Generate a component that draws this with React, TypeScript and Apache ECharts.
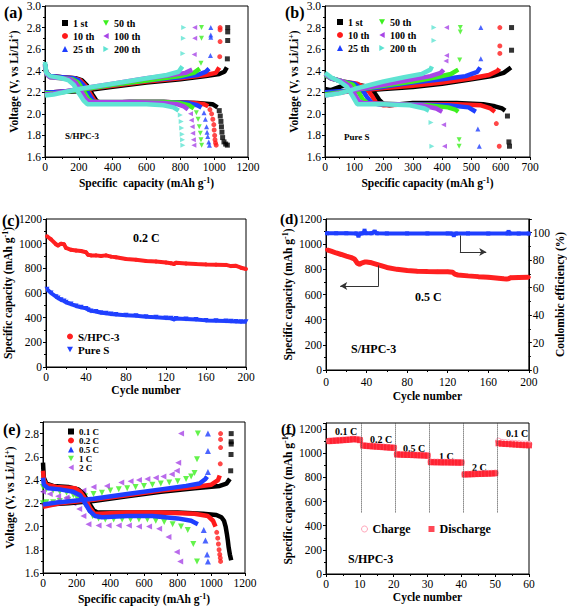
import React, { useEffect, useRef } from "react";
import * as echarts from "echarts";

const FONT = '"Liberation Serif", "Times New Roman", serif';

// ---------- colours / symbols
const COLORS6 = ["#000000", "#ff1a1a", "#1f3fff", "#3cf01e", "#a845e6", "#5fe3d2"];
const SYM_TD = "path://M0,0L10,0L5,9Z";
const SYM_TL = "path://M10,0L10,10L1,5Z";
const SYM_TR = "path://M0,0L0,10L9,5Z";
const SYMS6 = ["rect", "circle", "triangle", SYM_TD, SYM_TL, SYM_TR];

// ---------- (a) S/HPC-3 charge/discharge profiles
const CYCLE_NAMES = ["1 st", "10 th", "25 th", "50 th", "100 th", "200 th"];
const A_DIS_1 = [[0,2.46],[8,2.38],[30,2.35],[100,2.34],[180,2.33],[220,2.31],[250,2.26],[280,2.18],[305,2.12],[330,2.1],[500,2.11],[700,2.11],[900,2.1],[990,2.09],[1020,2.06]];
const A_DIS_1_T = [[1030,2.03],[1036,1.98],[1040,1.93],[1043,1.88],[1046,1.83],[1050,1.78],[1058,1.74],[1068,1.72],[1078,1.71]];
const A_CHG_1 = [[0,2.2],[50,2.2],[200,2.21],[400,2.25],[600,2.29],[800,2.32],[950,2.35],[1030,2.37],[1060,2.39],[1075,2.43]];
const A_CHG_1_T = [[1078,2.51],[1080,2.68],[1080,2.76],[1080,2.8]];
const A_DIS_10 = [[0,2.45],[8,2.38],[30,2.35],[100,2.34],[175,2.33],[210,2.31],[240,2.26],[270,2.18],[295,2.12],[320,2.1],[500,2.11],[700,2.11],[880,2.1],[940,2.09],[965,2.07]];
const A_DIS_10_T = [[975,2.04],[985,2.0],[992,1.95],[998,1.9],[1000,1.85],[1003,1.8],[1005,1.76],[1008,1.73],[1012,1.71]];
const A_CHG_10 = [[0,2.2],[50,2.2],[200,2.22],[400,2.26],[600,2.3],[800,2.33],[950,2.36],[1010,2.38],[1030,2.43]];
const A_CHG_10_T = [[1033,2.53],[1035,2.67],[1035,2.78],[1035,2.8]];
const A_DIS_25 = [[0,2.46],[8,2.38],[30,2.35],[100,2.34],[170,2.33],[200,2.31],[230,2.26],[260,2.18],[285,2.12],[310,2.1],[500,2.11],[700,2.11],[850,2.1],[900,2.08],[925,2.06]];
const A_DIS_25_T = [[940,2.01],[948,1.95],[955,1.88],[958,1.83],[962,1.79],[968,1.74],[972,1.71]];
const A_CHG_25 = [[0,2.2],[50,2.2],[200,2.22],[400,2.27],[600,2.31],[800,2.34],[900,2.36],[950,2.39],[970,2.42]];
const A_CHG_25_T = [[978,2.54],[980,2.71],[980,2.73],[980,2.8]];
const A_DIS_50 = [[0,2.44],[8,2.37],[30,2.34],[100,2.33],[160,2.32],[195,2.29],[225,2.22],[255,2.14],[280,2.11],[500,2.11],[700,2.11],[800,2.1],[850,2.08],[880,2.05]];
const A_DIS_50_T = [[895,2.01],[905,1.95],[912,1.88],[918,1.82],[922,1.76],[926,1.71]];
const A_CHG_50 = [[0,2.19],[50,2.19],[200,2.22],[400,2.27],[600,2.31],[800,2.35],[880,2.38],[915,2.42]];
const A_CHG_50_T = [[922,2.47],[925,2.7],[925,2.8]];
const A_DIS_100 = [[0,2.45],[8,2.37],[30,2.34],[100,2.33],[150,2.32],[180,2.29],[210,2.22],[240,2.14],[265,2.11],[500,2.11],[700,2.1],[780,2.09],[820,2.07],[845,2.04]];
const A_DIS_100_T = [[860,2.0],[865,1.94],[870,1.88],[873,1.82],[877,1.76],[880,1.71]];
const A_CHG_100 = [[0,2.18],[50,2.19],[200,2.23],[400,2.28],[600,2.33],[750,2.36],[830,2.38],[870,2.41]];
const A_CHG_100_T = [[882,2.55],[885,2.7],[885,2.8]];
const A_DIS_200 = [[0,2.48],[8,2.38],[30,2.35],[100,2.33],[140,2.31],[170,2.27],[200,2.19],[230,2.12],[250,2.09],[400,2.09],[600,2.09],[700,2.08],[760,2.06],[790,2.03]];
const A_DIS_200_T = [[800,1.99],[805,1.93],[808,1.87],[811,1.81],[813,1.76],[815,1.71]];
const A_CHG_200 = [[0,2.17],[50,2.18],[200,2.23],[400,2.28],[600,2.33],[720,2.36],[790,2.39],[812,2.44]];
const A_CHG_200_T = [[815,2.56],[818,2.7],[820,2.8]];

// ---------- (b) Pure S charge/discharge profiles
const B_DIS_1 = [[0,2.23],[20,2.22],[60,2.26],[110,2.27],[150,2.25],[170,2.19],[185,2.13],[200,2.09],[220,2.08],[300,2.1],[450,2.1],[540,2.09],[580,2.07],[605,2.05],[615,2.03]];
const B_DIS_1_T = [[623,1.98],[628,1.74],[630,1.7]];
const B_CHG_1 = [[0,2.21],[30,2.2],[100,2.21],[200,2.23],[300,2.25],[400,2.28],[500,2.32],[570,2.35],[610,2.38],[635,2.43]];
const B_CHG_1_T = [[637,2.59],[637,2.8]];
const B_DIS_10 = [[0,2.37],[20,2.33],[60,2.3],[110,2.28],[140,2.24],[160,2.17],[175,2.1],[200,2.08],[300,2.09],[450,2.09],[530,2.08],[565,2.05],[580,2.02]];
const B_DIS_10_T = [[585,1.91],[595,1.7]];
const B_CHG_10 = [[0,2.19],[100,2.21],[200,2.24],[300,2.26],[400,2.29],[500,2.33],[560,2.36],[590,2.4],[595,2.42]];
const B_CHG_10_T = [[597,2.56],[597,2.63],[597,2.8]];
const B_DIS_25 = [[0,2.36],[20,2.33],[60,2.3],[100,2.28],[125,2.23],[145,2.15],[160,2.1],[180,2.09],[300,2.09],[420,2.08],[490,2.06],[515,2.02]];
const B_DIS_25_T = [[522,1.86],[527,1.7]];
const B_CHG_25 = [[0,2.2],[100,2.22],[200,2.25],[300,2.29],[400,2.32],[480,2.35],[520,2.39],[530,2.43]];
const B_CHG_25_T = [[532,2.51],[532,2.8]];
const B_DIS_50 = [[0,2.36],[20,2.33],[60,2.3],[95,2.27],[115,2.2],[130,2.13],[145,2.1],[250,2.09],[350,2.08],[420,2.06],[445,2.04],[455,2.02]];
const B_DIS_50_T = [[458,1.76],[458,1.7]];
const B_CHG_50 = [[0,2.18],[100,2.22],[200,2.26],[300,2.3],[380,2.34],[430,2.37],[455,2.41]];
const B_CHG_50_T = [[460,2.5],[462,2.76],[462,2.8]];
const B_DIS_100 = [[0,2.37],[20,2.33],[60,2.3],[85,2.26],[100,2.19],[115,2.12],[130,2.1],[250,2.09],[330,2.08],[380,2.05],[400,2.02]];
const B_DIS_100_T = [[405,1.9],[408,1.7]];
const B_CHG_100 = [[0,2.17],[100,2.22],[200,2.27],[300,2.32],[360,2.35],[395,2.38],[405,2.41]];
const B_CHG_100_T = [[413,2.49],[415,2.54],[415,2.8]];
const B_DIS_200 = [[0,2.38],[20,2.34],[50,2.3],[75,2.25],[95,2.16],[110,2.09],[200,2.09],[290,2.08],[340,2.05],[355,2.03]];
const B_DIS_200_T = [[362,1.92],[365,1.7]];
const B_CHG_200 = [[0,2.17],[50,2.19],[100,2.23],[200,2.3],[270,2.34],[330,2.37],[360,2.41],[365,2.44]];
const B_CHG_200_T = [[372,2.68],[372,2.8]];

// ---------- (c) cycling at 0.2 C
const C_CYCLE = [1,5,10,12,15,18,20,25,30,35,40,42,45,50,55,60,65,70,80,90,100,110,120,125,128,130,140,150,160,170,180,185,190,195,200];
const C_HPC = [1060,1035,995,985,1000,995,965,950,945,940,930,910,905,905,900,905,895,890,875,870,860,855,848,842,835,845,840,835,832,830,828,818,820,805,795];
const C_PURE = [630,600,570,560,545,535,525,510,495,485,475,465,455,450,440,435,430,425,420,415,408,403,398,395,385,393,390,385,378,375,372,370,368,366,366];

// ---------- (d) cycling at 0.5 C
const D_CYCLE = [1,5,10,15,20,25,28,30,31,33,35,38,40,45,50,55,60,70,80,90,100,110,120,125,127,130,140,150,160,170,175,178,180,182,190,200];
const D_CAP = [955,945,930,918,905,893,882,860,848,840,850,858,858,852,840,828,815,800,790,785,782,781,780,776,762,755,748,742,737,730,726,724,726,734,736,738];
const D_CE_CYCLE = [1,10,20,30,32,34,37,38,39,45,48,50,60,80,100,120,124,126,128,140,160,179,180,181,190,200];
const D_CE = [99.6,99.6,99.6,99.5,97.8,99.5,99.7,101.5,99.7,99.6,100.8,99.6,99.5,99.5,99.5,99.5,99.4,98.2,99.4,99.5,99.4,99.5,100.6,99.5,99.4,99.4];
const D_ARROW_CE = [[132,98],[132,86],[158,86]];
const D_ARROW_CAP = [[52,830],[52,668],[14,668]];

// ---------- (e) rate profiles
const RATE_NAMES = ["0.1 C", "0.2 C", "0.5 C", "1 C", "2 C"];
const E_DIS_01 = [[0,2.55],[5,2.42],[20,2.37],[60,2.35],[150,2.34],[210,2.32],[240,2.28],[270,2.21],[300,2.14],[325,2.12],[450,2.12],[600,2.12],[800,2.12],[950,2.11],[1030,2.1],[1060,2.08],[1075,2.05],[1085,2.0],[1092,1.94],[1098,1.88],[1103,1.82],[1110,1.76],[1118,1.71]];
const E_CHG_01 = [[0,2.18],[20,2.19],[150,2.2],[300,2.22],[500,2.26],[700,2.3],[900,2.33],[1050,2.35],[1090,2.37],[1110,2.41]];
const E_CHG_01_T = [[1115,2.48],[1117,2.62],[1118,2.71],[1118,2.73],[1118,2.8]];
const E_DIS_02 = [[0,2.48],[5,2.4],[20,2.36],[80,2.34],[190,2.33],[220,2.3],[250,2.24],[280,2.16],[305,2.11],[330,2.11],[500,2.12],[700,2.12],[900,2.11],[980,2.09],[1010,2.05],[1025,2.0]];
const E_DIS_02_T = [[1032,1.95],[1038,1.9],[1042,1.85],[1046,1.8],[1050,1.76],[1053,1.73],[1055,1.7]];
const E_CHG_02 = [[0,2.17],[100,2.2],[300,2.23],[500,2.27],[700,2.31],[900,2.34],[1000,2.36],[1040,2.4],[1050,2.44]];
const E_CHG_02_T = [[1053,2.54],[1055,2.68],[1055,2.75],[1055,2.8]];
const E_DIS_05 = [[0,2.42],[5,2.36],[30,2.33],[100,2.32],[180,2.3],[220,2.27],[250,2.2],[280,2.13],[310,2.09],[350,2.08],[500,2.09],[650,2.09],[800,2.07],[880,2.05],[920,2.02]];
const E_DIS_05_T = [[955,1.97],[965,1.88],[975,1.76],[980,1.7]];
const E_CHG_05 = [[0,2.19],[100,2.21],[300,2.24],[500,2.28],[700,2.32],[850,2.35],[930,2.37],[965,2.41],[975,2.43]];
const E_CHG_05_T = [[980,2.47],[980,2.65],[980,2.8]];
const E_DIS_1 = [[0,2.34],[20,2.32],[60,2.31],[100,2.3],[140,2.29],[180,2.27],[220,2.24],[250,2.19],[270,2.14],[295,2.09],[330,2.07],[370,2.06],[420,2.06],[470,2.06],[520,2.06],[570,2.06],[620,2.06],[670,2.05],[720,2.04],[770,2.02],[820,2.0],[860,1.97],[893,1.85],[915,1.7]];
const E_CHG_1 = [[0,2.2],[20,2.21],[60,2.21],[100,2.22],[150,2.23],[200,2.25],[250,2.26],[300,2.28],[350,2.29],[400,2.31],[450,2.32],[500,2.33],[550,2.34],[600,2.35],[650,2.36],[700,2.37],[750,2.38],[800,2.39],[850,2.41],[880,2.43],[900,2.46],[915,2.58],[920,2.8]];
const E_DIS_2 = [[0,2.3],[40,2.28],[90,2.26],[140,2.24],[180,2.2],[215,2.15],[240,2.09],[270,2.02],[330,2.01],[390,2.01],[450,2.01],[510,2.01],[570,2.0],[630,2.0],[690,1.98],[745,1.91],[795,1.78],[815,1.7]];
const E_CHG_2 = [[0,2.19],[40,2.2],[90,2.22],[140,2.25],[190,2.28],[240,2.31],[300,2.34],[380,2.35],[465,2.38],[520,2.39],[570,2.4],[620,2.41],[670,2.42],[715,2.43],[765,2.45],[795,2.48],[803,2.55],[820,2.8]];

// ---------- (f) rate capability, cycles 1..60
const F_DIS = [1100,1102,1104,1106,1108,1110,1112,1116,1114,1108,1063,1060,1058,1056,1054,1052,1050,1048,1046,1044,990,988,987,986,985,984,983,982,981,979,926,925,925,924,924,924,923,923,922,922,824,825,826,827,828,829,830,831,832,834,1082,1078,1076,1075,1073,1071,1069,1067,1066,1065];
const F_CHG = [1102,1104,1106,1108,1110,1112,1114,1118,1116,1112,1066,1062,1060,1058,1056,1054,1052,1050,1048,1046,992,990,989,988,987,986,985,984,983,981,928,927,927,926,926,926,925,925,924,924,826,827,828,829,830,831,832,833,834,836,1100,1090,1087,1085,1083,1080,1078,1076,1076,1075];
const F_BOUNDS = [10.5, 20.5, 30.5, 40.5, 50.5];
const F_RATE_LABELS = ["0.1 C", "0.2 C", "0.5 C", "1 C", "2 C", "0.1 C"];

// ---------- helpers
const nameStyle = {
  fontFamily: FONT, fontWeight: "bold", fontSize: 11.5, color: "#000",
  rich: { sup: { fontFamily: FONT, fontWeight: "bold", fontSize: 8, color: "#000", verticalAlign: "bottom", padding: [0, 0, 6, 0] } },
};

function axis(gi: number, min: number, max: number, interval: number, name: string, nameGap: number, extra: any = {}) {
  const { axisLabel, ...rest } = extra;
  return {
    type: "value", gridIndex: gi, min, max, interval, name, nameGap,
    nameLocation: "middle", nameTextStyle: nameStyle,
    axisLine: { show: true, onZero: false, lineStyle: { color: "#000", width: 1 } },
    axisTick: { show: true, length: 3, lineStyle: { color: "#000" } },
    minorTick: { show: true, splitNumber: 2, length: 2, lineStyle: { color: "#000" } },
    splitLine: { show: false },
    axisLabel: { color: "#000", fontFamily: FONT, fontSize: 11.5, margin: 4, formatter: (v: number) => String(v), ...(axisLabel || {}) },
    ...rest,
  };
}

function band(name: string, data: any, color: string, xi: number, yi: number, width = 4.5, symbol = "none", size = 4) {
  return {
    type: "line", name, xAxisIndex: xi, yAxisIndex: yi, data,
    symbol, symbolSize: size, showSymbol: symbol !== "none",
    lineStyle: { color, width }, itemStyle: { color }, silent: true,
  };
}
function dots(name: string, data: any, color: string, symbol: string, size: number, xi: number, yi: number) {
  return { type: "scatter", name, xAxisIndex: xi, yAxisIndex: yi, data, symbol, symbolSize: size, itemStyle: { color }, silent: true };
}

const A_SETS = [
  [A_DIS_1, A_DIS_1_T, A_CHG_1, A_CHG_1_T],
  [A_DIS_10, A_DIS_10_T, A_CHG_10, A_CHG_10_T],
  [A_DIS_25, A_DIS_25_T, A_CHG_25, A_CHG_25_T],
  [A_DIS_50, A_DIS_50_T, A_CHG_50, A_CHG_50_T],
  [A_DIS_100, A_DIS_100_T, A_CHG_100, A_CHG_100_T],
  [A_DIS_200, A_DIS_200_T, A_CHG_200, A_CHG_200_T],
];
const B_SETS = [
  [B_DIS_1, B_DIS_1_T, B_CHG_1, B_CHG_1_T],
  [B_DIS_10, B_DIS_10_T, B_CHG_10, B_CHG_10_T],
  [B_DIS_25, B_DIS_25_T, B_CHG_25, B_CHG_25_T],
  [B_DIS_50, B_DIS_50_T, B_CHG_50, B_CHG_50_T],
  [B_DIS_100, B_DIS_100_T, B_CHG_100, B_CHG_100_T],
  [B_DIS_200, B_DIS_200_T, B_CHG_200, B_CHG_200_T],
];

function profileSeries(sets: any[], xi: number, yi: number) {
  const out: any[] = [];
  sets.forEach((s, i) => {
    const c = COLORS6[i], sym = SYMS6[i], n = CYCLE_NAMES[i];
    out.push(band(n, s[0], c, xi, yi));
    out.push(dots(n, s[1], c, sym, 5, xi, yi));
    out.push(band(n, s[2], c, xi, yi));
    out.push(dots(n, s[3], c, sym, 5, xi, yi));
  });
  return out;
}

function buildOption() {
  const grids = [
    { left: 45, top: 6, width: 203, height: 151 },
    { left: 325, top: 6, width: 205, height: 151 },
    { left: 46, top: 219, width: 200, height: 148 },
    { left: 326, top: 219, width: 204, height: 151 },
    { left: 43, top: 422, width: 202, height: 151 },
    { left: 326, top: 423, width: 203, height: 151 },
  ].map((g) => ({ ...g, show: true, borderColor: "#000", borderWidth: 1, backgroundColor: "transparent" }));

  const capName = "Specific  capacity (mAh g{sup|-1})";
  const capName2 = "Specific capacity (mAh g{sup|-1})";
  const voltName = "Voltage (V, vs Li/Li{sup|+})";
  const fmt1 = (v: number) => v.toFixed(1);

  const xAxes = [
    axis(0, 0, 1200, 200, capName, 19),
    axis(1, 0, 700, 100, capName2, 19),
    axis(2, 0, 200, 40, "Cycle number", 16),
    axis(3, 0, 200, 40, "Cycle number", 20, { axisLabel: { margin: 6 } }),
    axis(4, 0, 1200, 200, capName2, 19),
    axis(5, 0, 60, 10, "Cycle number", 17),
  ];
  const yAxes = [
    axis(0, 1.6, 3.0, 0.2, voltName, 24, { axisLabel: { formatter: fmt1 } }),
    axis(1, 1.6, 3.0, 0.2, voltName, 24, { axisLabel: { formatter: fmt1 } }),
    axis(2, 0, 1200, 200, capName2, 31),
    axis(3, 0, 1200, 200, capName2, 31),
    axis(3, 0, 110, 20, "Coulombic efficiency (%)", 24, { position: "right", axisLabel: { showMaxLabel: false } }),
    axis(4, 1.6, 2.9, 0.2, voltName, 26, { axisLabel: { formatter: fmt1, showMaxLabel: false } }),
    axis(5, 0, 1250, 200, capName2, 31, { axisLabel: { showMaxLabel: false } }),
  ];

  const series: any[] = [];
  series.push(...profileSeries(A_SETS, 0, 0));
  series.push(...profileSeries(B_SETS, 1, 1));

  // (c)
  series.push(band("S/HPC-3", C_CYCLE.map((c, i) => [c, C_HPC[i]]), "#ff2020", 2, 2, 4, "circle", 4));
  series.push(band("Pure S", C_CYCLE.map((c, i) => [c, C_PURE[i]]), "#2040ff", 2, 2, 4, SYM_TD, 5));

  // (d)
  const arrowLine = (pts: number[][]) => [
    [{ coord: pts[0] }, { coord: pts[1] }],
    [{ coord: pts[1] }, { coord: pts[2], symbol: "arrow", symbolSize: [6, 7] }],
  ];
  const dCap: any = band("cap05", D_CYCLE.map((c, i) => [c, D_CAP[i]]), "#ff2020", 3, 3, 5, "circle", 4);
  dCap.markLine = {
    silent: true, symbol: ["none", "none"], label: { show: false }, emphasis: { disabled: true },
    lineStyle: { color: "#333", width: 1, type: "solid" }, data: arrowLine(D_ARROW_CAP),
  };
  const dCe: any = band("ce05", D_CE_CYCLE.map((c, i) => [c, D_CE[i]]), "#1f3fff", 3, 4, 4, "rect", 4);
  dCe.markLine = {
    silent: true, symbol: ["none", "none"], label: { show: false }, emphasis: { disabled: true },
    lineStyle: { color: "#333", width: 1, type: "solid" }, data: arrowLine(D_ARROW_CE),
  };
  series.push(dCap, dCe);

  // (e)
  series.push(band(RATE_NAMES[0], E_DIS_01, "#000000", 4, 5));
  series.push(band(RATE_NAMES[0], E_CHG_01, "#000000", 4, 5));
  series.push(dots(RATE_NAMES[0], E_CHG_01_T, "#000000", "rect", 5, 4, 5));
  series.push(band(RATE_NAMES[1], E_DIS_02, "#ff1a1a", 4, 5));
  series.push(dots(RATE_NAMES[1], E_DIS_02_T, "#ff1a1a", "circle", 5, 4, 5));
  series.push(band(RATE_NAMES[1], E_CHG_02, "#ff1a1a", 4, 5));
  series.push(dots(RATE_NAMES[1], E_CHG_02_T, "#ff1a1a", "circle", 5, 4, 5));
  series.push(band(RATE_NAMES[2], E_DIS_05, "#1f3fff", 4, 5));
  series.push(dots(RATE_NAMES[2], E_DIS_05_T, "#1f3fff", "triangle", 6, 4, 5));
  series.push(band(RATE_NAMES[2], E_CHG_05, "#1f3fff", 4, 5));
  series.push(dots(RATE_NAMES[2], E_CHG_05_T, "#1f3fff", "triangle", 6, 4, 5));
  series.push(dots(RATE_NAMES[3], E_DIS_1, "#3cf01e", SYM_TD, 6, 4, 5));
  series.push(dots(RATE_NAMES[3], E_CHG_1, "#3cf01e", SYM_TD, 6, 4, 5));
  series.push(dots(RATE_NAMES[4], E_DIS_2, "#a845e6", SYM_TL, 6, 4, 5));
  series.push(dots(RATE_NAMES[4], E_CHG_2, "#a845e6", SYM_TL, 6, 4, 5));

  // (f)
  series.push({
    type: "scatter", name: "Charge", xAxisIndex: 5, yAxisIndex: 6, silent: true,
    data: F_CHG.map((v, i) => [i + 1, v]), symbol: "circle", symbolSize: 6,
    itemStyle: { color: "#ffffff", borderColor: "#ff8fa8", borderWidth: 1 },
  });
  series.push({
    type: "scatter", name: "Discharge", xAxisIndex: 5, yAxisIndex: 6, silent: true,
    data: F_DIS.map((v, i) => [i + 1, v]), symbol: "rect", symbolSize: 6,
    itemStyle: { color: "#ff1a2a" },
    markLine: {
      silent: true, symbol: ["none", "none"], label: { show: false }, emphasis: { disabled: true },
      lineStyle: { color: "#444", width: 1, type: "dotted" },
      data: F_BOUNDS.map((b) => [{ coord: [b, 510] }, { coord: [b, 1250] }]),
    },
  });

  const lgText = (size: number) => ({ fontFamily: FONT, fontWeight: "bold", fontSize: size, color: "#000" });
  const lgBase = { selectedMode: false, orient: "vertical", padding: 0, itemWidth: 6, itemHeight: 6 };
  const legend = [
    { ...lgBase, left: 62, top: 18, itemGap: 3, textStyle: lgText(10), data: [0, 1, 2].map((i) => ({ name: CYCLE_NAMES[i], icon: SYMS6[i] })) },
    { ...lgBase, left: 103, top: 18, itemGap: 3, textStyle: lgText(10), data: [3, 4, 5].map((i) => ({ name: CYCLE_NAMES[i], icon: SYMS6[i] })) },
    { ...lgBase, left: 337, top: 17, itemGap: 3, textStyle: lgText(10), data: [0, 1, 2].map((i) => ({ name: CYCLE_NAMES[i], icon: SYMS6[i] })) },
    { ...lgBase, left: 379, top: 17, itemGap: 3, textStyle: lgText(10), data: [3, 4, 5].map((i) => ({ name: CYCLE_NAMES[i], icon: SYMS6[i] })) },
    { ...lgBase, left: 67, top: 331, itemGap: 2, textStyle: lgText(11), data: [{ name: "S/HPC-3", icon: "circle" }, { name: "Pure S", icon: SYM_TD }] },
    { ...lgBase, left: 68, top: 427, itemGap: 0, textStyle: lgText(9), data: [
      { name: RATE_NAMES[0], icon: "rect" }, { name: RATE_NAMES[1], icon: "circle" }, { name: RATE_NAMES[2], icon: "triangle" },
      { name: RATE_NAMES[3], icon: SYM_TD }, { name: RATE_NAMES[4], icon: SYM_TL } ] },
    { ...lgBase, orient: "horizontal", left: 361, top: 523, itemGap: 18, textStyle: lgText(12), data: [
      { name: "Charge", icon: "circle", itemStyle: { color: "#fff", borderColor: "#ff8fa8", borderWidth: 1 } },
      { name: "Discharge", icon: "rect" } ] },
  ];

  const txt = (text: string, x: number, y: number, size: number) => ({
    type: "text", x, y, silent: true,
    style: { text, fontFamily: FONT, fontWeight: "bold", fontSize: size, fill: "#000", verticalAlign: "middle", align: "left" },
  });
  const graphic = [
    txt("(a)", 4, 12, 16), txt("(b)", 285, 12, 16), txt("(c)", 2, 220, 16),
    txt("(d)", 280, 219, 15), txt("(e)", 3, 429, 16), txt("(f)", 281, 429, 15),
    txt("S/HPC-3", 65, 136, 9), txt("Pure S", 344, 137, 9),
    txt("0.2 C", 133, 238, 12), txt("0.5 C", 415, 297, 12), txt("S/HPC-3", 351, 349, 12),
    txt("S/HPC-3", 348, 559, 12),
    txt(F_RATE_LABELS[0], 335, 431, 10), txt(F_RATE_LABELS[1], 370, 439, 10), txt(F_RATE_LABELS[2], 403, 448, 10),
    txt(F_RATE_LABELS[3], 439, 456, 10), txt(F_RATE_LABELS[4], 472, 467, 10), txt(F_RATE_LABELS[5], 506, 433, 10),
  ];

  return {
    animation: false,
    backgroundColor: "#ffffff",
    textStyle: { fontFamily: FONT },
    grid: grids,
    xAxis: xAxes,
    yAxis: yAxes,
    legend,
    series,
    graphic,
  };
}

export default function App() {
  const ref = useRef<HTMLDivElement>(null);
  useEffect(() => {
    const chart = echarts.init(ref.current as HTMLDivElement, null, { renderer: "svg" });
    chart.setOption(buildOption() as any);
    return () => chart.dispose();
  }, []);
  return <div ref={ref} style={{ position: "absolute", left: 0, top: 0, width: 567, height: 607 }} />;
}
